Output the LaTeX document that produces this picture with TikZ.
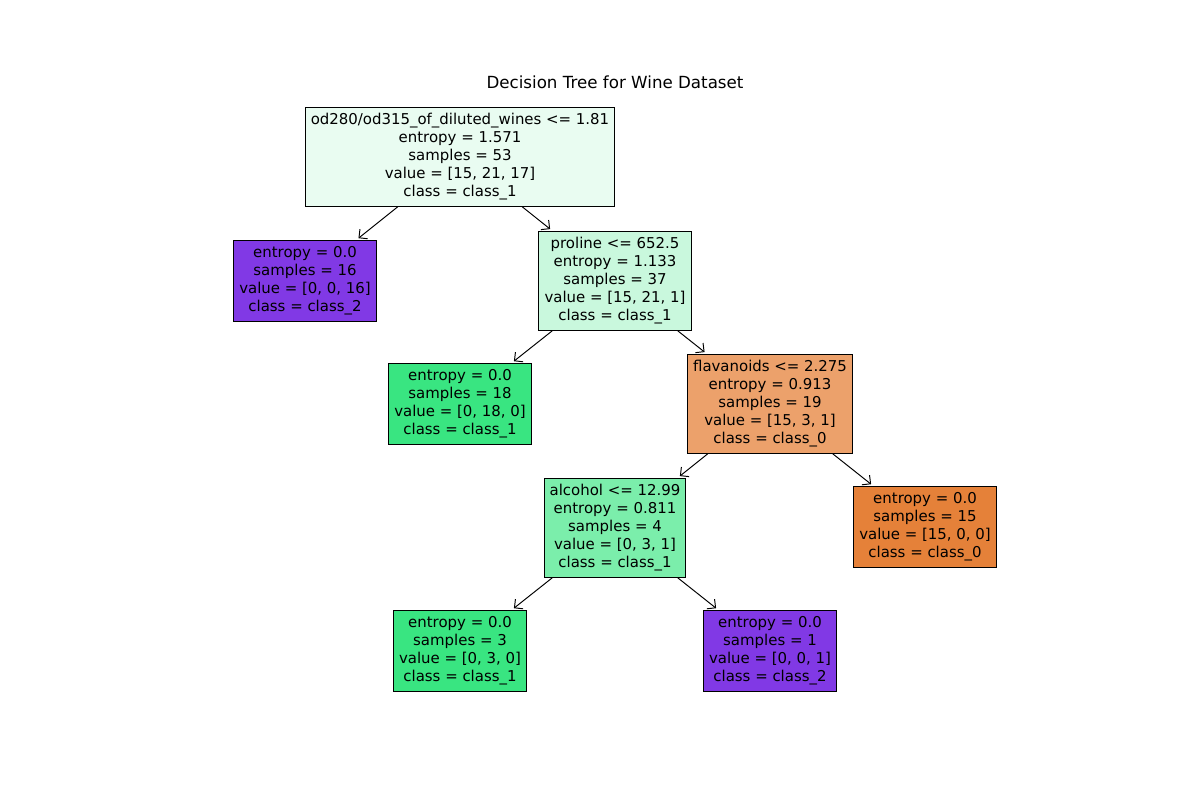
\documentclass[tikz,border=0pt]{standalone}
\usepackage{fontspec}
\setmainfont{DejaVu Sans}
\usetikzlibrary{arrows.meta}
\definecolor{rootcol}{RGB}{233,252,241}
\definecolor{prolcol}{RGB}{201,248,221}
\definecolor{flavcol}{RGB}{236,161,107}
\definecolor{alcocol}{RGB}{123,238,171}
\definecolor{cls0}{RGB}{229,129,57}
\definecolor{cls1}{RGB}{57,229,129}
\definecolor{cls2}{RGB}{129,57,229}
\tikzset{
treenode/.style={draw=black, line width=0.55pt, align=center, inner xsep=3.2pt, inner ysep=3.3pt,
  font=\fontsize{8.5}{10.25}\selectfont},
edge/.style={-{Straight Barb[length=3.5pt,width=7pt]}, line width=0.55pt, shorten >=2pt}
}
\begin{document}
\begin{tikzpicture}[x=0.02cm,y=-0.02cm]
\useasboundingbox (0,0) rectangle (1200,800);

\node[font=\fontsize{9.5}{11}\selectfont] (title) at (615,82) {Decision Tree for Wine Dataset};

\node[treenode, fill=rootcol] (root) at (460,157) {od280/od315\_of\_diluted\_wines <= 1.81\\entropy = 1.571\\samples = 53\\value = [15, 21, 17]\\class = class\_1};
\node[treenode, fill=cls2] (leafa) at (305,281) {entropy = 0.0\\samples = 16\\value = [0, 0, 16]\\class = class\_2};
\node[treenode, fill=prolcol] (proline) at (615,281) {proline <= 652.5\\entropy = 1.133\\samples = 37\\value = [15, 21, 1]\\class = class\_1};
\node[treenode, fill=cls1] (leafb) at (460,404) {entropy = 0.0\\samples = 18\\value = [0, 18, 0]\\class = class\_1};
\node[treenode, fill=flavcol] (flav) at (770,404) {flavanoids <= 2.275\\entropy = 0.913\\samples = 19\\value = [15, 3, 1]\\class = class\_0};
\node[treenode, fill=alcocol] (alcohol) at (615,528) {alcohol <= 12.99\\entropy = 0.811\\samples = 4\\value = [0, 3, 1]\\class = class\_1};
\node[treenode, fill=cls0] (leafc) at (925,527) {entropy = 0.0\\samples = 15\\value = [15, 0, 0]\\class = class\_0};
\node[treenode, fill=cls1] (leafd) at (460,651) {entropy = 0.0\\samples = 3\\value = [0, 3, 0]\\class = class\_1};
\node[treenode, fill=cls2] (leafe) at (770,651) {entropy = 0.0\\samples = 1\\value = [0, 0, 1]\\class = class\_2};

\foreach \a/\b in {root/leafa, root/proline, proline/leafb, proline/flav,
  flav/alcohol, flav/leafc, alcohol/leafd, alcohol/leafe} {
\draw[edge] (\a) -- (\b);}

\end{tikzpicture}
\end{document}
